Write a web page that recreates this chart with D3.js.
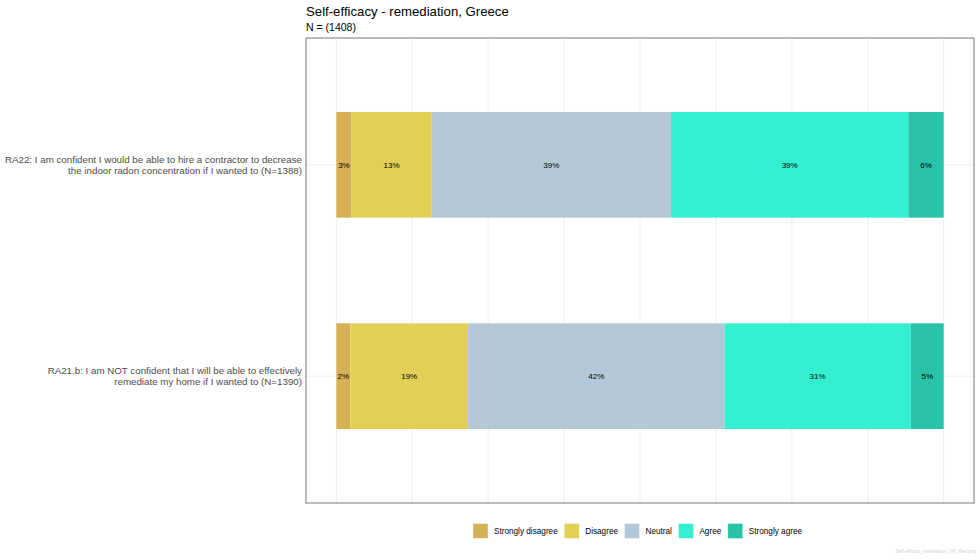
<!DOCTYPE html>
<html>
<head>
<meta charset="utf-8">
<script src="https://cdn.jsdelivr.net/npm/d3@7"></script>
<style>
  body { margin: 0; background: #fff; }
  svg { font-family: "Liberation Sans", Arial, Helvetica, sans-serif; }
</style>
</head>
<body>
<svg class="likert" width="980" height="560"></svg>
<script>
// items (first entry sits on top)
const items = ["RA22", "RA21.b"];
const itemLabels = [
    ["RA22: I am confident I would be able to hire a contractor to decrease",
     "the indoor radon concentration if I wanted to (N=1388)"],
    ["RA21.b: I am NOT confident that I will be able to effectively",
     "remediate my home if I wanted to (N=1390)"]
];
const levels = ["Strongly disagree", "Disagree", "Neutral", "Agree", "Strongly agree"];
const levelColors = ["#d5b153", "#e1cf56", "#b3c7d7", "#33f0d1", "#27c2a7"];

// shares in percent per level, one value per item
const stronglyDisagree = [2.5, 2.3];
const disagree = [13.2, 19.4];
const neutral = [39.4, 42.2];
const agree = [39.1, 30.7];
const stronglyAgree = [5.8, 5.4];

(function likertChart() {
    let svg = d3.select("svg.likert");
    let panel = {left: 306, top: 38, right: 974, bottom: 503};

    let rows = items.map(function(d, i) {
        return {
            item: d,
            "Strongly disagree": stronglyDisagree[i],
            "Disagree": disagree[i],
            "Neutral": neutral[i],
            "Agree": agree[i],
            "Strongly agree": stronglyAgree[i]
        };
    });

    let pad = (panel.right - panel.left) * 0.05 / 1.1;
    let x = d3.scaleLinear().domain([0, 100]).range([panel.left + pad, panel.right - pad]);
    // ggplot-like discrete scale: 0.6 unit expansion each side
    let y = d3.scalePoint().domain(items).range([panel.top, panel.bottom]).padding(0.6);
    let barH = y.step() * 0.5;
    let color = d3.scaleOrdinal().domain(levels).range(levelColors);

    // gridlines
    let g = svg.append("g");
    g.selectAll(".vgrid")
        .data(d3.range(0, 100.1, 12.5))
        .enter().append("line")
        .attr("x1", d => x(d)).attr("x2", d => x(d))
        .attr("y1", panel.top).attr("y2", panel.bottom)
        .attr("stroke", "#ebebeb").attr("stroke-width", 0.8);
    g.selectAll(".hgrid")
        .data(items)
        .enter().append("line")
        .attr("x1", panel.left).attr("x2", panel.right)
        .attr("y1", d => y(d)).attr("y2", d => y(d))
        .attr("stroke", "#ebebeb").attr("stroke-width", 0.8);

    // stacked bars
    let series = d3.stack().keys(levels)(rows);
    let layers = g.selectAll(".layer")
        .data(series)
        .enter().append("g")
        .attr("fill", d => color(d.key));
    layers.selectAll("rect")
        .data(d => d)
        .enter().append("rect")
        .attr("x", d => x(d[0]))
        .attr("width", d => x(d[1]) - x(d[0]))
        .attr("y", d => y(d.data.item) - barH / 2)
        .attr("height", barH);
    layers.selectAll("text")
        .data(d => d)
        .enter().append("text")
        .attr("x", d => (x(d[0]) + x(d[1])) / 2)
        .attr("y", d => y(d.data.item))
        .attr("dy", "0.35em")
        .attr("text-anchor", "middle")
        .attr("font-size", 8)
        .attr("fill", "#000")
        .text(d => Math.round(d[1] - d[0]) + "%");

    // panel border
    svg.append("rect")
        .attr("x", panel.left).attr("y", panel.top)
        .attr("width", panel.right - panel.left)
        .attr("height", panel.bottom - panel.top)
        .attr("fill", "none").attr("stroke", "#6b6b6b").attr("stroke-width", 0.9);

    // item labels
    let yl = svg.append("g");
    items.forEach(function(d, i) {
        let t = yl.append("text")
            .attr("text-anchor", "end")
            .attr("font-size", 9.75)
            .attr("fill", "#4d4d4d");
        itemLabels[i].forEach(function(line, j) {
            t.append("tspan")
                .attr("x", panel.left - 4)
                .attr("y", y(d) + (j - 0.5) * 11.5 + 3.5)
                .text(line);
        });
    });

    // titles
    svg.append("text").attr("x", panel.left).attr("y", 16)
        .attr("font-size", 13.2).attr("fill", "#000")
        .text("Self-efficacy - remediation, Greece");
    svg.append("text").attr("x", panel.left).attr("y", 31)
        .attr("font-size", 10.5).attr("fill", "#000")
        .text("N = (1408)");

    // legend
    let legend = svg.append("g").attr("transform", "translate(473,0)");
    let cursor = 0;
    let keys = legend.selectAll(".key").data(levels).enter().append("g");
    keys.append("rect")
        .attr("width", 15).attr("height", 15)
        .attr("fill", d => color(d))
        .attr("stroke", "#fff").attr("stroke-opacity", 0.5).attr("stroke-width", 0.8);
    keys.append("text")
        .attr("x", 21).attr("y", 7.5).attr("dy", "0.35em")
        .attr("font-size", 8.2).attr("fill", "#000")
        .text(d => d);
    keys.each(function() {
        let el = d3.select(this);
        el.attr("transform", "translate(" + cursor + ",523.5)");
        cursor += 21 + el.select("text").node().getComputedTextLength() + 6.5;
    });

    // file tag
    svg.append("text").attr("x", 976).attr("y", 553)
        .attr("text-anchor", "end").attr("font-size", 4.5).attr("fill", "#d0d0d0")
        .text("Self-efficacy_remediation_GR_filled.png");
})();
</script>
</body>
</html>
